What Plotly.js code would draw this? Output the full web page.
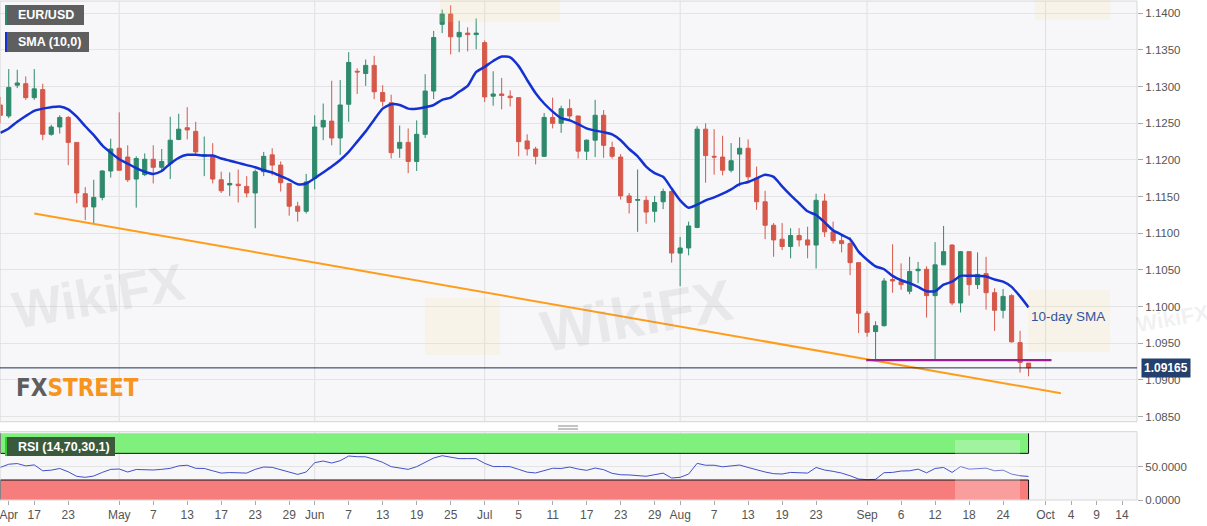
<!DOCTYPE html>
<html>
<head>
<meta charset="utf-8">
<title>EUR/USD daily</title>
<script src="https://cdn.plot.ly/plotly-3.0.1.min.js"></script>
<style>
    html, body { margin: 0; padding: 0; background: #fff; overflow: hidden; }
    #chart { width: 1207px; height: 526px; }
</style>
</head>
<body>
<div id="chart"></div>
<script>
// Trading days shown as candles (weekends skipped)
const dates = [
    '2019-04-11','2019-04-12','2019-04-15','2019-04-16','2019-04-17','2019-04-18','2019-04-19','2019-04-22','2019-04-23','2019-04-24','2019-04-25','2019-04-26','2019-04-29','2019-04-30',
    '2019-05-01','2019-05-02','2019-05-03','2019-05-06','2019-05-07','2019-05-08','2019-05-09','2019-05-10','2019-05-13','2019-05-14','2019-05-15','2019-05-16','2019-05-17','2019-05-20','2019-05-21','2019-05-22','2019-05-23','2019-05-24','2019-05-27','2019-05-28','2019-05-29','2019-05-30','2019-05-31',
    '2019-06-03','2019-06-04','2019-06-05','2019-06-06','2019-06-07','2019-06-10','2019-06-11','2019-06-12','2019-06-13','2019-06-14','2019-06-17','2019-06-18','2019-06-19','2019-06-20','2019-06-21','2019-06-24','2019-06-25','2019-06-26','2019-06-27','2019-06-28',
    '2019-07-01','2019-07-02','2019-07-03','2019-07-04','2019-07-05','2019-07-08','2019-07-09','2019-07-10','2019-07-11','2019-07-12','2019-07-15','2019-07-16','2019-07-17','2019-07-18','2019-07-19','2019-07-22','2019-07-23','2019-07-24','2019-07-25','2019-07-26','2019-07-29','2019-07-30','2019-07-31',
    '2019-08-01','2019-08-02','2019-08-05','2019-08-06','2019-08-07','2019-08-08','2019-08-09','2019-08-12','2019-08-13','2019-08-14','2019-08-15','2019-08-16','2019-08-19','2019-08-20','2019-08-21','2019-08-22','2019-08-23','2019-08-26','2019-08-27','2019-08-28','2019-08-29','2019-08-30',
    '2019-09-02','2019-09-03','2019-09-04','2019-09-05','2019-09-06','2019-09-09','2019-09-10','2019-09-11','2019-09-12','2019-09-13','2019-09-16','2019-09-17','2019-09-18','2019-09-19','2019-09-20','2019-09-23','2019-09-24','2019-09-25','2019-09-26','2019-09-27'
];
// Empty trading days at the right end of the axis
const futureDates = ['2019-09-30','2019-10-01','2019-10-02','2019-10-03','2019-10-04','2019-10-07','2019-10-08','2019-10-09','2019-10-10','2019-10-11','2019-10-14','2019-10-15'];

const opens = [
    1.1275,1.1260,1.1302,1.1304,1.1285,1.1296,1.1235,1.1245,1.1258,1.1224,1.1154,1.1136,1.1149,1.1185,
    1.1216,1.1204,1.1174,1.1180,1.1201,1.1190,1.1195,1.1228,1.1244,1.1239,1.1205,1.1205,1.1173,1.1166,1.1167,1.1164,1.1155,1.1184,1.1207,1.1193,1.1168,1.1137,1.1130,
    1.1175,1.1245,1.1253,1.1230,1.1276,1.1321,1.1318,1.1329,1.1292,1.1278,1.1216,1.1224,1.1198,1.1235,1.1294,1.1385,1.1399,1.1368,1.1373,1.1371,
    1.1360,1.1287,1.1290,1.1287,1.1285,1.1226,1.1215,1.1205,1.1258,1.1250,1.1270,1.1260,1.1212,1.1227,1.1261,1.1217,1.1204,1.1151,1.1145,1.1145,1.1130,1.1143,1.1157,
    1.1073,1.1080,1.1108,1.1242,1.1205,1.1204,1.1186,1.1208,1.1216,1.1175,1.1143,1.1111,1.1092,1.1082,1.1097,1.1091,1.1084,1.1144,1.1102,1.1090,1.1086,1.1060,
    1.0991,1.0966,1.0974,1.1037,1.1034,1.1021,1.1049,1.1051,1.1015,1.1057,1.1084,1.1005,1.1075,1.1030,1.1045,1.1019,1.0995,1.1015,1.0951,1.0923
];
const highs = [
    1.1286,1.1324,1.1323,1.1314,1.1324,1.1304,1.1248,1.1261,1.1260,1.1224,1.1163,1.1173,1.1186,1.1229,
    1.1265,1.1220,1.1205,1.1209,1.1220,1.1215,1.1259,1.1263,1.1272,1.1252,1.1232,1.1223,1.1184,1.1183,1.1187,1.1178,1.1187,1.1211,1.1216,1.1198,1.1168,1.1143,1.1181,
    1.1261,1.1277,1.1308,1.1309,1.1347,1.1325,1.1337,1.1342,1.1302,1.1289,1.1247,1.1243,1.1254,1.1317,1.1376,1.1405,1.1411,1.1390,1.1381,1.1393,
    1.1363,1.1321,1.1312,1.1295,1.1285,1.1235,1.1218,1.1264,1.1285,1.1274,1.1283,1.1260,1.1228,1.1282,1.1268,1.1225,1.1208,1.1155,1.1187,1.1151,1.1151,1.1161,1.1159,
    1.1095,1.1116,1.1246,1.1250,1.1242,1.1233,1.1223,1.1231,1.1228,1.1191,1.1158,1.1114,1.1114,1.1107,1.1107,1.1109,1.1154,1.1154,1.1116,1.1098,1.1095,1.1060,
    1.0994,1.0980,1.1039,1.1085,1.1059,1.1068,1.1061,1.1055,1.1088,1.1110,1.1085,1.1076,1.1075,1.1074,1.1068,1.1025,1.1024,1.1017,1.0967,1.0923
];
const lows = [
    1.1250,1.1257,1.1298,1.1282,1.1282,1.1227,1.1233,1.1236,1.1193,1.1141,1.1118,1.1114,1.1145,1.1176,
    1.1186,1.1170,1.1135,1.1178,1.1168,1.1184,1.1174,1.1227,1.1228,1.1208,1.1178,1.1168,1.1155,1.1151,1.1142,1.1149,1.1107,1.1178,1.1179,1.1157,1.1124,1.1116,1.1127,
    1.1160,1.1227,1.1220,1.1207,1.1252,1.1290,1.1301,1.1283,1.1273,1.1202,1.1203,1.1182,1.1185,1.1230,1.1283,1.1373,1.1344,1.1347,1.1348,1.1351,
    1.1279,1.1274,1.1269,1.1273,1.1205,1.1206,1.1194,1.1204,1.1243,1.1237,1.1254,1.1202,1.1200,1.1204,1.1203,1.1202,1.1146,1.1127,1.1102,1.1113,1.1115,1.1133,1.1060,
    1.1028,1.1070,1.1107,1.1169,1.1180,1.1179,1.1183,1.1164,1.1170,1.1132,1.1092,1.1068,1.1077,1.1066,1.1082,1.1066,1.1052,1.1095,1.1086,1.1074,1.1043,1.0964,
    1.0959,1.0927,1.0973,1.1019,1.1023,1.1017,1.1032,1.0985,1.0927,1.1057,1.1002,1.0992,1.1015,1.1024,1.0996,1.0967,1.0984,1.0951,1.0910,1.0905
];
const closes = [
    1.1261,1.1299,1.1305,1.1285,1.1297,1.1235,1.1245,1.1258,1.1224,1.1155,1.1136,1.1149,1.1185,1.1215,
    1.1186,1.1173,1.1202,1.1201,1.1190,1.1198,1.1227,1.1242,1.1241,1.1211,1.1207,1.1174,1.1158,1.1168,1.1165,1.1155,1.1184,1.1205,1.1193,1.1169,1.1137,1.1130,1.1170,
    1.1245,1.1254,1.1230,1.1275,1.1333,1.1320,1.1329,1.1293,1.1280,1.1210,1.1224,1.1198,1.1235,1.1294,1.1367,1.1399,1.1368,1.1374,1.1371,1.1373,
    1.1286,1.1290,1.1288,1.1285,1.1225,1.1215,1.1205,1.1258,1.1250,1.1270,1.1260,1.1212,1.1227,1.1261,1.1220,1.1205,1.1151,1.1142,1.1146,1.1129,1.1142,1.1157,1.1073,
    1.1080,1.1110,1.1242,1.1206,1.1204,1.1186,1.1199,1.1216,1.1177,1.1143,1.1111,1.1091,1.1082,1.1097,1.1091,1.1084,1.1145,1.1102,1.1090,1.1086,1.1060,1.0991,
    1.0965,1.0974,1.1035,1.1035,1.1030,1.1048,1.1051,1.1015,1.1057,1.1075,1.1005,1.1075,1.1030,1.1044,1.1019,1.0995,1.1014,1.0952,1.0924,1.09165
];
// 10-day SMA as drawn on the chart
const sma10 = [
    1.1237,1.1243,1.1252,1.1260,1.1267,1.1270,1.1272,1.1273,1.1269,1.1259,1.1246,1.1234,1.1220,1.1210,
    1.1201,1.1195,1.1189,1.1184,1.1181,1.1185,1.1195,1.1203,1.1207,1.1207,1.1206,1.1206,1.1202,1.1199,1.1196,1.1193,1.1190,1.1186,1.1183,1.1178,1.1173,1.1167,1.1168,
    1.1175,1.1183,1.1191,1.1200,1.1211,1.1225,1.1239,1.1255,1.1270,1.1276,1.1275,1.1270,1.1270,1.1272,1.1275,1.1282,1.1285,1.1293,1.1301,1.1320,
    1.1327,1.1335,1.1341,1.1340,1.1328,1.1309,1.1291,1.1277,1.1266,1.1257,1.1254,1.1249,1.1243,1.1240,1.1238,1.1235,1.1227,1.1215,1.1205,1.1191,1.1182,1.1177,1.1161,
    1.1145,1.1135,1.1139,1.1145,1.1149,1.1154,1.1160,1.1167,1.1170,1.1175,1.1180,1.1177,1.1164,1.1152,1.1141,1.1130,1.1125,1.1115,1.1104,1.1098,1.1092,1.1075,
    1.1064,1.1055,1.1051,1.1042,1.1036,1.1032,1.1027,1.1021,1.1021,1.1030,1.1034,1.1042,1.1042,1.1042,1.1041,1.1037,1.1034,1.1027,1.1014,1.0999
];
// RSI (14)
const rsi14 = [
    48.8,53.7,54.7,51.2,52.7,43.8,44.8,47.3,42.3,35.5,34,36,41.4,46,
    46.5,42,45.8,45.3,45,46,47.5,51.2,52.2,47.5,47.3,43.8,40.4,41.2,41,40.4,46,49.5,49,45.5,41,38.4,42,
    56,58.5,55.5,59,66,65,64.8,61,56.5,50,48.5,46,50,56.5,63,66.5,64,62.1,62.1,62.1,
    55,50.2,50.2,50,46,41.8,40.6,44,47.6,47.3,49.5,46.5,44.5,48,45.5,40,37.9,37.6,37,35.6,38,40.3,33,
    34,38.9,55,52.2,52.2,49.8,51.5,52.5,48.8,45,42,39.5,39,41.4,40.8,40.4,48.8,45,43,40.4,36.4,31.5,
    30.5,31,41,41.4,43.5,43.8,46.3,40.8,47.3,48.8,41.4,50.2,46.3,47.5,47.8,43.8,44.8,38.9,36.4,35.4
];
const rsiUpper = 70;
const rsiLower = 30;

// x-axis labels
const tickDates = ['2019-04-12','2019-04-17','2019-04-23','2019-05-01','2019-05-07','2019-05-13','2019-05-17','2019-05-23','2019-05-29',
    '2019-06-03','2019-06-07','2019-06-13','2019-06-19','2019-06-25','2019-07-01','2019-07-05','2019-07-11','2019-07-17','2019-07-23','2019-07-29',
    '2019-08-01','2019-08-07','2019-08-13','2019-08-19','2019-08-23','2019-09-02','2019-09-06','2019-09-12','2019-09-18','2019-09-24',
    '2019-10-01','2019-10-04','2019-10-09','2019-10-14'];
const tickText = ['Apr','17','23','May','7','13','17','23','29','Jun','7','13','19','25','Jul','5','11','17','23','29',
    'Aug','7','13','19','23','Sep','6','12','18','24','Oct','4','9','14'];
const monthStarts = ['2019-05-01','2019-06-03','2019-07-01','2019-08-01','2019-09-02','2019-10-01'];

// Drawn studies
const trendDates = ['2019-04-17', '2019-10-02'];
const trendPrices = [1.1127, 1.0882];
const supportDates = ['2019-09-02', '2019-10-01'];
const supportPrice = 1.0927;

// ---------------------------------------------------------------
const GREEN = '#2e8a6c';
const RED = '#d5584a';
const FONT = 'Arial, "Liberation Sans", sans-serif';

const axisDays = dates.concat(futureDates);
const pos = (d, frac = 0) => axisDays.indexOf(d) + frac;
const idx = dates.map((d, i) => i);
const lastIdx = dates.length - 1;
const lastPrice = closes[lastIdx];

// plot-area pixel helpers (plot area is 1137 x 499, top at y=1)
const PW = 1137, PTOP = 1, PBOT = 500;
const px = v => v / PW;
const py = v => (PBOT - v) / (PBOT - PTOP);

const candles = {
    type: 'candlestick',
    x: idx, open: opens, high: highs, low: lows, close: closes,
    increasing: { line: { color: GREEN, width: 1 }, fillcolor: GREEN },
    decreasing: { line: { color: RED, width: 1 }, fillcolor: RED },
    whiskerwidth: 0,
    hoverinfo: 'skip',
    xaxis: 'x', yaxis: 'y'
};

const smaLine = {
    type: 'scatter', mode: 'lines',
    x: idx, y: sma10,
    line: { color: '#1432d2', width: 2.5, shape: 'spline', smoothing: 0.6 },
    hoverinfo: 'skip', xaxis: 'x', yaxis: 'y'
};

const trendLine = {
    type: 'scatter', mode: 'lines',
    x: [pos(trendDates[0]), pos(trendDates[1], 0.8)], y: trendPrices,
    line: { color: '#ff9d1a', width: 2 },
    hoverinfo: 'skip', xaxis: 'x', yaxis: 'y'
};

const supportLine = {
    type: 'scatter', mode: 'lines',
    x: [pos(supportDates[0], -0.1), pos(supportDates[1], 0.7)], y: [supportPrice, supportPrice],
    line: { color: '#9b1c93', width: 2.2 },
    hoverinfo: 'skip', xaxis: 'x', yaxis: 'y'
};

const rsiLine = {
    type: 'scatter', mode: 'lines',
    x: idx, y: rsi14,
    line: { color: '#4150c8', width: 1 },
    hoverinfo: 'skip', xaxis: 'x', yaxis: 'y2'
};

const shapes = [];

// month grid lines in both panels
monthStarts.forEach(d => {
    ['y domain', 'y2 domain'].forEach(ref => {
        shapes.push({
            type: 'line', xref: 'x', yref: ref, x0: pos(d), x1: pos(d), y0: 0, y1: 1,
            line: { color: '#e0e0e0', width: 1 }, layer: 'below'
        });
    });
});

// RSI over-bought / over-sold bands
const bandEnd = lastIdx;
shapes.push(
    { type: 'rect', xref: 'x', yref: 'y2', x0: 0, x1: bandEnd, y0: rsiUpper, y1: 100,
      fillcolor: '#7ff07c', line: { width: 0 }, layer: 'below' },
    { type: 'rect', xref: 'x', yref: 'y2', x0: 0, x1: bandEnd, y0: 0, y1: rsiLower,
      fillcolor: '#f77c7c', line: { width: 0 }, layer: 'below' },
    { type: 'line', xref: 'x', yref: 'y2', x0: 0, x1: bandEnd, y0: rsiUpper, y1: rsiUpper, line: { color: '#111', width: 1 } },
    { type: 'line', xref: 'x', yref: 'y2', x0: 0, x1: bandEnd, y0: rsiLower, y1: rsiLower, line: { color: '#111', width: 1 } },
    { type: 'line', xref: 'x', yref: 'y2', x0: bandEnd, x1: bandEnd, y0: rsiUpper, y1: 100, line: { color: '#111', width: 1 } },
    { type: 'line', xref: 'x', yref: 'y2', x0: bandEnd, x1: bandEnd, y0: 0, y1: rsiLower, line: { color: '#111', width: 1 } },
    { type: 'line', xref: 'x', yref: 'y2', x0: 0, x1: 0, y0: 0, y1: rsiLower, line: { color: '#333', width: 1.5 } },
    { type: 'line', xref: 'x', yref: 'y2', x0: 0, x1: 0, y0: rsiUpper, y1: 100, line: { color: '#333', width: 1.5 } }
);

// panel borders
shapes.push(
    { type: 'rect', xref: 'paper', yref: 'paper', x0: 0, x1: 1, y0: py(421.7), y1: 1,
      line: { color: '#d6d6d6', width: 1 }, fillcolor: 'rgba(0,0,0,0)' },
    { type: 'rect', xref: 'paper', yref: 'paper', x0: 0, x1: 1, y0: 0, y1: py(431.7),
      line: { color: '#d6d6d6', width: 1 }, fillcolor: 'rgba(0,0,0,0)' }
);

// last price line
shapes.push({
    type: 'line', xref: 'paper', yref: 'y', x0: 0, x1: 1, y0: lastPrice, y1: lastPrice,
    line: { color: '#1d2d50', width: 1 }
});

// panel resize handle
shapes.push(
    { type: 'line', xref: 'paper', yref: 'paper', x0: px(558), x1: px(578), y0: py(426), y1: py(426), line: { color: '#888', width: 1 } },
    { type: 'line', xref: 'paper', yref: 'paper', x0: px(558), x1: px(578), y0: py(429), y1: py(429), line: { color: '#888', width: 1 } }
);

// faint watermark logos
[[425, 298, 500, 355], [1028, 290, 1110, 352], [440, -20, 560, 22], [1035, -20, 1110, 20]].forEach(b => {
    shapes.push({ type: 'rect', xref: 'paper', yref: 'paper', x0: px(b[0]), x1: px(b[2]), y0: py(b[3]), y1: py(b[1]),
        fillcolor: 'rgba(248,222,140,0.15)', line: { width: 0 }, layer: 'above' });
});
shapes.push({ type: 'rect', xref: 'paper', yref: 'paper', x0: px(955), x1: px(1020), y0: py(500), y1: py(440),
    fillcolor: 'rgba(255,255,255,0.25)', line: { width: 0 }, layer: 'above' });

// legend boxes (top-left and RSI)
const boxes = [
    { x0: 5, x1: 84, y0: 5, y1: 25, fill: '#5f5f5f', edge: '#2e8a6c', text: 'EUR/USD' },
    { x0: 5, x1: 89, y0: 32, y1: 52, fill: '#5f5f5f', edge: '#1432d2', text: 'SMA (10,0)' },
    { x0: 5, x1: 115, y0: 437, y1: 456, fill: '#3b5a3b', edge: '#33cc33', text: 'RSI (14,70,30,1)' }
];
const annotations = [];
boxes.forEach(b => {
    shapes.push(
        { type: 'rect', xref: 'paper', yref: 'paper', x0: px(b.x0), x1: px(b.x1), y0: py(b.y1), y1: py(b.y0),
          fillcolor: b.fill, line: { width: 0 }, layer: 'above' },
        { type: 'rect', xref: 'paper', yref: 'paper', x0: px(b.x0), x1: px(b.x0 + 2), y0: py(b.y1), y1: py(b.y0),
          fillcolor: b.edge, line: { width: 0 }, layer: 'above' }
    );
    annotations.push({
        xref: 'paper', yref: 'paper', x: px(16), y: py((b.y0 + b.y1) / 2),
        xanchor: 'left', yanchor: 'middle', showarrow: false,
        text: '<b>' + b.text + '</b>', font: { family: FONT, size: 12.5, color: '#ffffff' }
    });
});

// watermarks
[[98, 296, 52], [636, 315, 58], [1172, 318, 22]].forEach(w => {
    annotations.push({
        xref: 'paper', yref: 'paper', x: px(w[0]), y: py(w[1]), xanchor: 'center', yanchor: 'middle',
        showarrow: false, textangle: -10, text: '<b>WikiFX</b>',
        font: { family: FONT, size: w[2], color: 'rgba(150,150,150,0.15)' }
    });
});

annotations.push(
    {   // FXStreet logo
        xref: 'paper', yref: 'paper', x: px(14), y: py(388), xanchor: 'left', yanchor: 'middle', showarrow: false,
        text: '<b><span style="color:#5e5e5e">FX</span><span style="color:#f7941d">STREET</span></b>',
        font: { family: '"DejaVu Sans Condensed", "Liberation Sans Narrow", ' + FONT, size: 24 }
    },
    {   // SMA label
        xref: 'x', yref: 'y', x: lastIdx, y: 1.0986, xanchor: 'left', yanchor: 'middle', showarrow: false,
        text: '10-day SMA', font: { family: FONT, size: 13.5, color: '#34539f' }
    },
    {   // last price tag
        xref: 'paper', yref: 'y', x: px(1141), y: lastPrice, xanchor: 'left', yanchor: 'middle', showarrow: false,
        text: '<b>' + lastPrice.toFixed(5) + '</b>', bgcolor: '#24406c', borderpad: 2,
        font: { family: FONT, size: 12, color: '#ffffff' }
    }
);

const layout = {
    width: 1207, height: 526,
    margin: { l: 0, r: 70, t: 1, b: 26 },
    paper_bgcolor: '#ffffff',
    plot_bgcolor: '#f7f7f9',
    showlegend: false,
    hovermode: false,
    font: { family: FONT, size: 12, color: '#555' },
    xaxis: {
        anchor: 'y2', range: [-0.03, 133.76], showgrid: false, zeroline: false, showline: false,
        tickmode: 'array', tickvals: tickDates.map(d => pos(d)), ticktext: tickText,
        ticks: 'outside', ticklen: 4, tickcolor: '#aaa', ticklabeloverflow: 'allow',
        tickfont: { family: FONT, size: 12, color: '#555' },
        rangeslider: { visible: false }, fixedrange: true
    },
    yaxis: {
        domain: [py(421.7), 1], side: 'right', anchor: 'x',
        range: [1.08431, 1.14168], tick0: 1.085, dtick: 0.005, tickformat: '.4f',
        showgrid: true, gridcolor: '#e4e4e4', zeroline: false, showline: false,
        ticks: 'outside', ticklen: 5, tickcolor: '#aaa',
        tickfont: { family: FONT, size: 11.5, color: '#555' }, fixedrange: true
    },
    yaxis2: {
        domain: [0, py(431.7)], side: 'right', anchor: 'x',
        range: [0, 102.5], tickmode: 'array', tickvals: [0, 50], ticktext: ['0.0000', '50.0000'],
        showgrid: true, gridcolor: '#e4e4e4', zeroline: false, showline: false,
        ticks: 'outside', ticklen: 5, tickcolor: '#aaa',
        tickfont: { family: FONT, size: 11.5, color: '#555' }, fixedrange: true
    },
    shapes: shapes,
    annotations: annotations
};

Plotly.newPlot('chart', [candles, smaLine, trendLine, supportLine, rsiLine], layout,
    { staticPlot: true, displayModeBar: false, responsive: false });
</script>
</body>
</html>
